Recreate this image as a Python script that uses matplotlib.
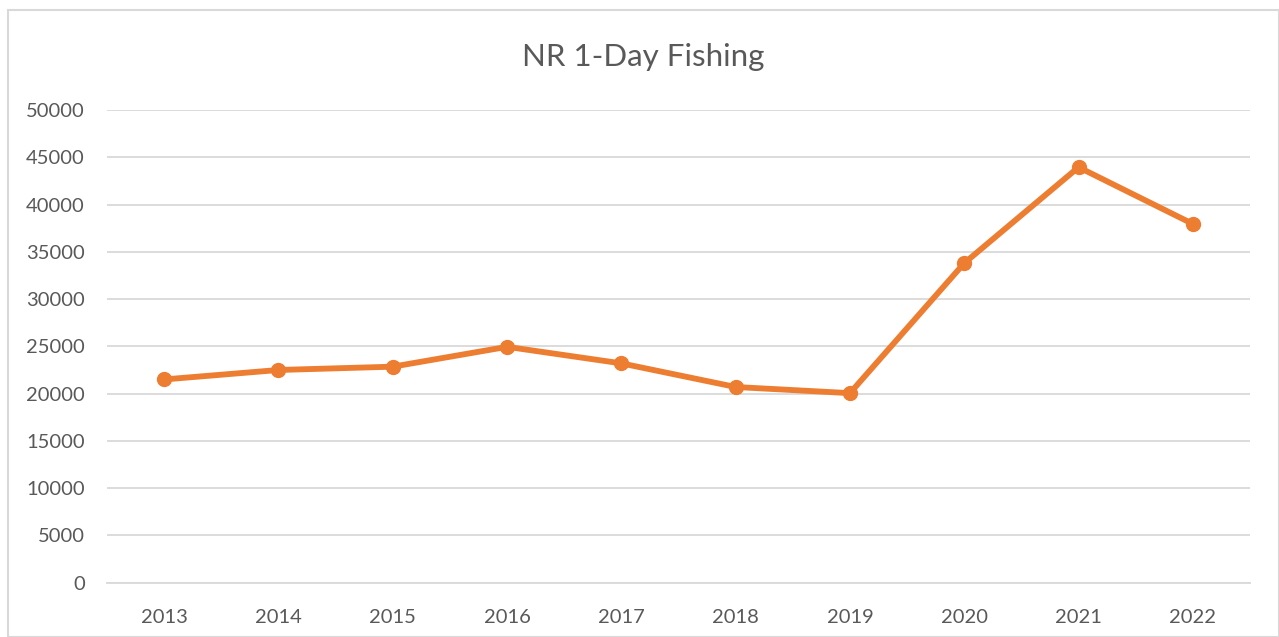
import matplotlib
matplotlib.use("Agg")
import matplotlib.pyplot as plt
from matplotlib.patches import Rectangle

years = ["2013", "2014", "2015", "2016", "2017", "2018", "2019", "2020", "2021", "2022"]
values = [21500, 22500, 22850, 24950, 23200, 20700, 20050, 33800, 43950, 37950]
yticks = [0, 5000, 10000, 15000, 20000, 25000, 30000, 35000, 40000, 45000, 50000]
title = "NR 1-Day Fishing"

plt.rcParams['font.family'] = ['Lato', 'DejaVu Sans']
text_color = "#595959"

fig = plt.figure(figsize=(12.79, 6.37), dpi=100)
fig.patches.append(Rectangle((8/1279, 0), 1 - 8/1279, 1 - 10/637, transform=fig.transFigure,
                             fill=False, edgecolor="#d9d9d9", linewidth=1.5))

ax = fig.add_axes([107/1279, 1 - 582.7/637, (1250 - 107)/1279, (582.7 - 110)/637])
x = list(range(len(years)))
ax.plot(x, values, color="#ED7D31", linewidth=4.2, marker="o", markersize=10,
        solid_capstyle="round", solid_joinstyle="round", zorder=3)

ax.set_xlim(-0.5, len(years) - 0.5)
ax.set_ylim(0, 50000)
ax.set_yticks(yticks)
ax.set_yticklabels([str(v) for v in yticks])
ax.set_xticks(x)
ax.set_xticklabels(years)
ax.grid(axis="y", color="#d9d9d9", linewidth=1.3)
ax.set_axisbelow(True)
for s in ["top", "right", "left"]:
    ax.spines[s].set_visible(False)
ax.spines["bottom"].set_color("#d9d9d9")
ax.spines["bottom"].set_linewidth(1.3)
ax.tick_params(axis="both", length=0, labelsize=14.5, colors=text_color)
ax.tick_params(axis="y", pad=16)
ax.tick_params(axis="x", pad=19)

fig.text(643/1279, 1 - 57/637, title, ha="center", va="center", fontsize=22.5, color=text_color)

fig.savefig("out.png", dpi=100)
